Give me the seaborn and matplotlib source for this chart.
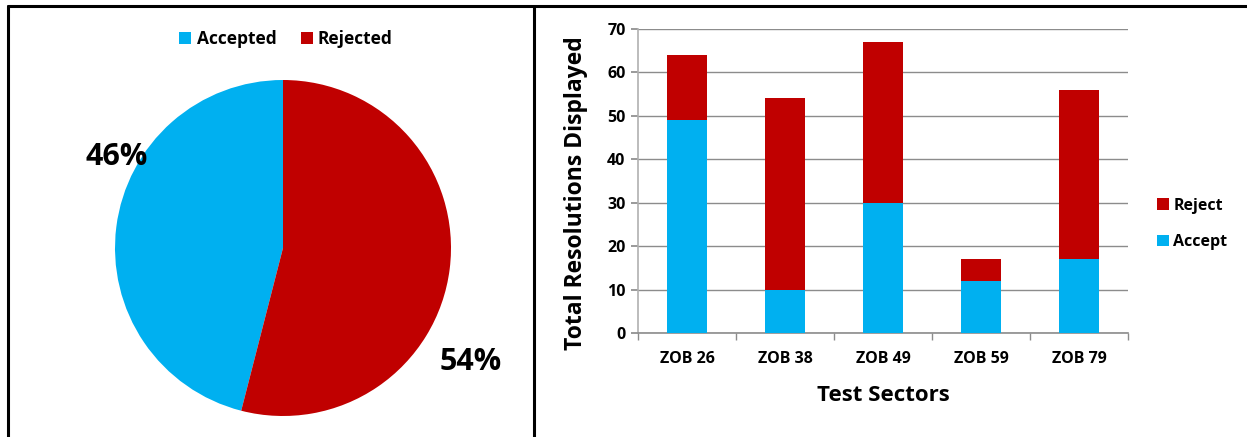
import matplotlib
matplotlib.use("Agg")
import matplotlib.pyplot as plt
from matplotlib.lines import Line2D
from matplotlib.patches import Patch
import seaborn as sns
import pandas as pd

# Overall outcome shares (percent)
pie_labels = ["Accepted", "Rejected"]
pie_shares = [46, 54]

# Per-sector resolution counts
sectors = ["ZOB 26", "ZOB 38", "ZOB 49", "ZOB 59", "ZOB 79"]
accept = [49, 10, 30, 12, 17]
reject = [15, 44, 37, 5, 39]

BLUE = "#00B0F0"
RED = "#C00000"
GRID = "#8C8C8C"

sns.set_theme(style="white")
plt.rcParams["font.family"] = ["Open Sans", "DejaVu Sans"]
plt.rcParams["font.weight"] = "bold"
plt.rcParams["text.color"] = "black"
plt.rcParams["axes.labelcolor"] = "black"
plt.rcParams["xtick.labelcolor"] = "black"
plt.rcParams["ytick.labelcolor"] = "black"

W, H = 1247, 437
fig = plt.figure(figsize=(W / 100, H / 100), dpi=100)

def fx(px):
    return px / W

def fy(py):
    return 1 - py / H

# ---- Pie panel ----
cx, cy, r = 283, 248, 168
ax_pie = fig.add_axes([fx(cx - r), fy(cy + r), 2 * r / W, 2 * r / H])
ax_pie.pie(pie_shares, colors=[BLUE, RED], startangle=90, counterclock=True,
           radius=1.0, wedgeprops=dict(linewidth=0))
ax_pie.set_xlim(-1, 1)
ax_pie.set_ylim(-1, 1)
ax_pie.set_aspect("equal")
ax_pie.axis("off")
label_pos = [(-0.99, 0.54), (1.12, -0.68)]
for share, (lx, ly) in zip(pie_shares, label_pos):
    ax_pie.text(lx, ly, f"{share}%", ha="center", va="center",
                fontsize=22, fontweight="bold", color="black", clip_on=False)

pie_handles = [Patch(facecolor=c, edgecolor="none") for c in (BLUE, RED)]
fig.legend(pie_handles, pie_labels, loc="center", bbox_to_anchor=(fx(286), fy(39)),
           ncol=2, frameon=False, handlelength=0.7, handleheight=0.7,
           handletextpad=0.3, columnspacing=1.4,
           prop=dict(weight="bold", size=12.5))

# ---- Stacked bar panel ----
df = pd.DataFrame({"sector": sectors, "accept": accept, "reject": reject})
df["total"] = df["accept"] + df["reject"]

ax = fig.add_axes([fx(638), fy(333), (1128 - 638) / W, (333 - 29) / H])
sns.barplot(data=df, x="sector", y="total", color=RED, width=0.41,
            saturation=1, linewidth=0, ax=ax, zorder=3)
sns.barplot(data=df, x="sector", y="accept", color=BLUE, width=0.41,
            saturation=1, linewidth=0, ax=ax, zorder=4)

ax.set_xlim(-0.5, len(sectors) - 0.5)
ax.set_ylim(0, 70)
ax.set_yticks(range(0, 71, 10))
ax.yaxis.grid(True, color=GRID, linewidth=1.0, zorder=0)
ax.set_axisbelow(True)
for side in ("top", "right"):
    ax.spines[side].set_visible(False)
ax.spines["left"].set_color("#B0B0B0")
ax.spines["bottom"].set_color(GRID)
ax.spines["left"].set_linewidth(1.2)
ax.spines["bottom"].set_linewidth(1.2)

ax.tick_params(axis="y", length=5, color=GRID, direction="out", left=True,
               labelsize=11.5, pad=4, labelcolor="black")
ax.tick_params(axis="x", length=0, labelsize=11.5, pad=13, labelcolor="black")
# category boundary ticks
ax.set_xticks([i - 0.5 for i in range(len(sectors) + 1)], minor=True)
ax.tick_params(axis="x", which="minor", length=5, color=GRID, direction="out",
               bottom=True)
for lab in ax.get_xticklabels() + ax.get_yticklabels():
    lab.set_fontweight("bold")

ax.set_xlabel("Test Sectors", fontsize=16, fontweight="bold", labelpad=13)
ax.set_ylabel("Total Resolutions Displayed", fontsize=16.5, fontweight="bold")
ax.yaxis.set_label_coords(-0.103, 0.46)

bar_handles = [Patch(facecolor=RED, edgecolor="none"),
               Patch(facecolor=BLUE, edgecolor="none")]
fig.legend(bar_handles, ["Reject", "Accept"], loc="center left",
           bbox_to_anchor=(fx(1143), fy(224)), frameon=False,
           handlelength=0.7, handleheight=0.7, handletextpad=0.3,
           labelspacing=1.3, prop=dict(weight="bold", size=11.5))

# ---- Panel frame lines ----
lw = 2.2
fig.add_artist(Line2D([fx(8), fx(8)], [fy(6), 0], color="black", lw=lw))
fig.add_artist(Line2D([fx(8), 1], [fy(6), fy(6)], color="black", lw=lw))
fig.add_artist(Line2D([fx(534), fx(534)], [fy(6), 0], color="black", lw=lw))

fig.savefig("out.png", dpi=100, facecolor="white")
